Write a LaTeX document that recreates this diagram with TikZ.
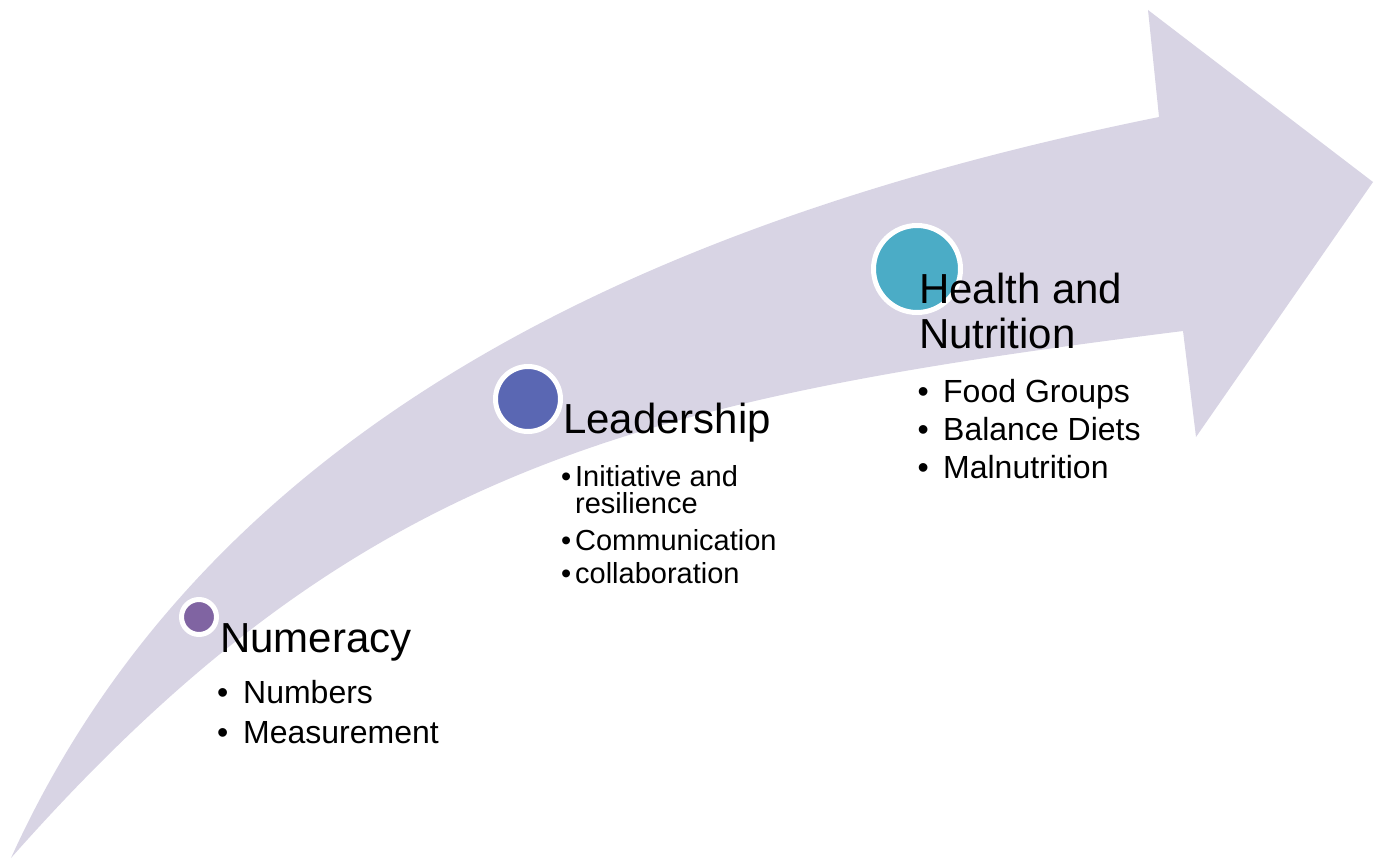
\documentclass[tikz,border=0pt]{standalone}
\usepackage{fontspec}
\setmainfont{Liberation Sans}
\definecolor{band}{RGB}{216,212,228}
\definecolor{numcol}{RGB}{128,100,162}
\definecolor{leadcol}{RGB}{90,103,179}
\definecolor{healthcol}{RGB}{75,172,198}
\newcommand*\dotitem[2][15pt]{\llap{\textbullet\hspace{#1}}#2}

\begin{document}
\begin{tikzpicture}[x=1pt, y=-1pt,
        head/.style={anchor=base west, inner sep=0pt, font=\fontsize{42}{50}\selectfont},
        item/.style={anchor=base west, inner sep=0pt, font=\fontsize{32}{38}\selectfont},
        stone/.style={circle, draw=white, line width=5pt, inner sep=0pt}]
        \useasboundingbox (0,0) rectangle (1380,859);

        \coordinate (T) at (11,858);
        \coordinate (U) at (1159,117);
        \coordinate (V) at (1148,10);
        \coordinate (W) at (1373,182);
        \coordinate (X) at (1196,437);
        \coordinate (L) at (1183,331);

        % the rising band with its head
        \fill[band] (T) .. controls (205,430) and (640,222) .. (U)
            -- (V) -- (W) -- (X) -- (L)
            .. controls (633,400) and (356,468) .. (T) -- cycle;

        \node[stone, fill=numcol, minimum size=35pt] (numdot) at (199,617) {};
        \node[stone, fill=leadcol, minimum size=65pt] (leaddot) at (528,399) {};
        \node[stone, fill=healthcol, minimum size=87pt] (healthdot) at (917,269) {};

        \node[head] (numhead) at (220,652) {Numeracy};
        \foreach \t [count=\i] in {Numbers, Measurement}
            \node[item] (num\i) at (243,663+40*\i) {\dotitem{\t}};

        \node[head] (leadhead) at (563,433) {Leadership};
        \begin{scope}[item/.append style={font=\fontsize{29}{35}\selectfont}]
            \node[item] (lead1) at (575,486) {\dotitem[4pt]{Initiative and}};
            \node[item] (lead1b) at (575,513) {resilience};
            \node[item] (lead2) at (575,550) {\dotitem[4pt]{Communication}};
            \node[item] (lead3) at (575,583) {\dotitem[4pt]{collaboration}};
        \end{scope}

        \node[head] (healthhead) at (919,303) {Health and};
        \node[head] (healthhead2) at (919,348) {Nutrition};
        \foreach \t [count=\i] in {Food Groups, Balance Diets, Malnutrition}
            \node[item] (health\i) at (943,364+38*\i) {\dotitem[14.4pt]{\t}};
    \end{tikzpicture}
\end{document}
